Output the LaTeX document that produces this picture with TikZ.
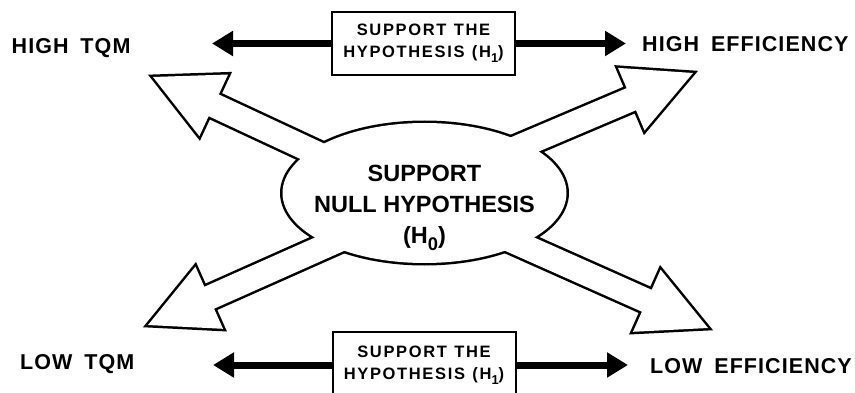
\documentclass[tikz,border=0pt]{standalone}
\usepackage{fontspec}
\setmainfont{Liberation Sans}
\usetikzlibrary{arrows.meta,calc}

% lowered, smaller index digit for H_0 / H_1
\newcommand\subidx[1]{\raisebox{-0.32em}{\scalebox{0.78}{#1}}}

\tikzset{
  lbl/.style={inner sep=0pt,
    font=\fontsize{21.5}{24}\selectfont\bfseries\addfontfeature{LetterSpace=5}},
  hypbox/.style={draw, line width=2pt, minimum width=183pt, inner sep=0pt,
    align=center,
    font=\fontsize{16.5}{22}\selectfont\bfseries\addfontfeature{LetterSpace=10}},
  nulltext/.style={inner sep=0pt, align=center,
    font=\fontsize{23.5}{31}\selectfont\bfseries},
  hbar/.style={line width=7pt, -{Triangle[length=21pt,width=24pt]}},
  outlinepass/.style={draw=black, line width=5pt},
  fillpass/.style={fill=white}
}

\begin{document}
\begin{tikzpicture}[x=1pt,y=-1pt]
\fill[white] (0,0) rectangle (855,393);
\useasboundingbox (0,0) rectangle (855,393);

% centre of the oval and tips of the four hollow arrows
\coordinate (ctr) at (424.5,193);
\coordinate (tl) at (153,77);
\coordinate (tr) at (693,73);
\coordinate (bl) at (148,325);
\coordinate (br) at (708,328);

% oval with four hollow arrows: stroke everything first, then fill,
% so the outlines merge into one contour
\foreach \t/\a in {tl/205,tr/337,bl/156,br/24}{
  \path[outlinepass] (\t)
    -- ($(\t)+({\a+180}:67)+({\a+90}:34)$)
    -- ($(\t)+({\a+180}:67)+({\a+90}:12)$)
    -- ($(\t)+({\a+180}:250)+({\a+90}:12)$)
    -- ($(\t)+({\a+180}:250)+({\a-90}:12)$)
    -- ($(\t)+({\a+180}:67)+({\a-90}:12)$)
    -- ($(\t)+({\a+180}:67)+({\a-90}:34)$)
    -- cycle;
}
\path[outlinepass] (ctr) ellipse [x radius=142pt, y radius=70pt];
\foreach \t/\a in {tl/205,tr/337,bl/156,br/24}{
  \path[fillpass] (\t)
    -- ($(\t)+({\a+180}:67)+({\a+90}:34)$)
    -- ($(\t)+({\a+180}:67)+({\a+90}:12)$)
    -- ($(\t)+({\a+180}:250)+({\a+90}:12)$)
    -- ($(\t)+({\a+180}:250)+({\a-90}:12)$)
    -- ($(\t)+({\a+180}:67)+({\a-90}:12)$)
    -- ($(\t)+({\a+180}:67)+({\a-90}:34)$)
    -- cycle;
}
\path[fillpass] (ctr) ellipse [x radius=142pt, y radius=70pt];

\node[nulltext, anchor=north] (nulltxt) at (424.5,164.5)
  {SUPPORT\\NULL HYPOTHESIS\\(H\subidx{0})};

% corner labels
\node[lbl, anchor=base west] (hightqm) at (11.5,54) {HIGH\hspace{.55em}TQM};
\node[lbl, anchor=base west] (higheff) at (642,51.3) {HIGH\hspace{.55em}EFFICIENCY};
\node[lbl, anchor=base west] (lowtqm) at (20,369) {LOW\hspace{.55em}TQM};
\node[lbl, anchor=base west] (loweff) at (650,373) {LOW\hspace{.55em}EFFICIENCY};

% hypothesis boxes
\node[hypbox, minimum height=63pt] (topbox) at (423.5,43.5)
  {SUPPORT\hspace{.45em}THE\\HYPOTHESIS\hspace{.45em}(H\subidx{1})};
\node[hypbox, minimum height=66pt] (botbox) at (424,365)
  {SUPPORT\hspace{.45em}THE\\HYPOTHESIS\hspace{.45em}(H\subidx{1})};

% free ends of the solid arrows
\coordinate (tqmhi) at (212,44);
\coordinate (effhi) at (626,44);
\coordinate (tqmlo) at (213,364);
\coordinate (efflo) at (628,364);

\draw[hbar] (topbox.west) -- (topbox.west -| tqmhi);
\draw[hbar] (topbox.east) -- (topbox.east -| effhi);
\draw[hbar] (botbox.west) -- (botbox.west -| tqmlo);
\draw[hbar] (botbox.east) -- (botbox.east -| efflo);
\end{tikzpicture}
\end{document}
